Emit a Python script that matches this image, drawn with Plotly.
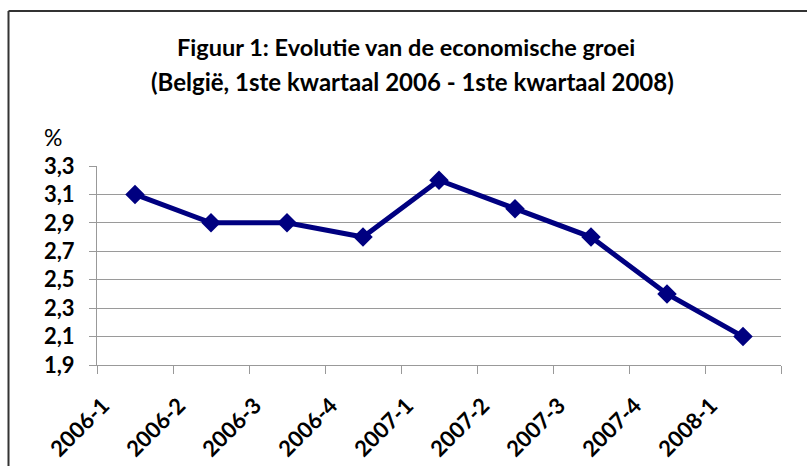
import plotly.graph_objects as go

quarters = ["2006-1", "2006-2", "2006-3", "2006-4", "2007-1", "2007-2", "2007-3", "2007-4", "2008-1"]
growth = [3.1, 2.9, 2.9, 2.8, 3.2, 3.0, 2.8, 2.4, 2.1]
y_ticks = [1.9, 2.1, 2.3, 2.5, 2.7, 2.9, 3.1, 3.3]

W, H = 807, 466
L, R, T, B = 97, 26, 166, 101
pw, ph = W - L - R, H - T - B

def px(x):
    return (x - L) / pw

def py(y):
    return (H - B - y) / ph

FONT = "Lato"
navy = "#000080"

fig = go.Figure()
fig.add_trace(go.Scatter(
    x=quarters, y=growth, mode="lines+markers",
    line=dict(color=navy, width=5),
    marker=dict(symbol="diamond", size=15, color=navy),
    showlegend=False, hoverinfo="x+y",
))

fig.update_layout(
    width=W, height=H,
    margin=dict(l=L, r=R, t=T, b=B, autoexpand=False),
    plot_bgcolor="white", paper_bgcolor="white",
    separators=",.",
    font=dict(family=FONT, color="black"),
    xaxis=dict(
        type="category", tickson="boundaries", ticks="outside", ticklen=8,
        tickcolor="#999999", tickwidth=1, showgrid=False,
        showline=True, linecolor="#999999", linewidth=1,
        tickangle=-45, tickfont=dict(size=22, family=FONT, weight="bold"),
        ticklabelstandoff=18, ticklabelshift=-32,
        range=[-0.5, len(quarters) - 0.5], automargin=False,
    ),
    yaxis=dict(
        range=[1.9, 3.3], tickvals=y_ticks, tickformat=".1f",
        ticks="outside", ticklen=7, tickcolor="#999999",
        showgrid=True, gridcolor="#9a9a9a", gridwidth=1,
        showline=True, linecolor="#999999", linewidth=1,
        zeroline=False, ticklabelstandoff=10,
        tickfont=dict(size=22, family=FONT, weight="bold"),
        automargin=False,
    ),
    annotations=[
        dict(text="<b>Figuur 1: Evolutie van de economische groei</b>",
             xref="paper", yref="paper", x=px(406), y=py(47),
             showarrow=False, font=dict(size=23.5, family=FONT), xanchor="center", yanchor="middle"),
        dict(text="<b>(België, 1ste kwartaal 2006 - 1ste kwartaal 2008)</b>",
             xref="paper", yref="paper", x=px(412), y=py(81),
             showarrow=False, font=dict(size=24, family=FONT), xanchor="center", yanchor="middle"),
        dict(text="%", xref="paper", yref="paper", x=px(53), y=py(137),
             showarrow=False, font=dict(size=23, family=FONT), xanchor="center", yanchor="middle"),
    ],
    shapes=[
        dict(type="line", xref="paper", yref="paper", x0=px(8.5), x1=px(807), y0=py(11), y1=py(11),
             line=dict(color="#333333", width=2)),
        dict(type="line", xref="paper", yref="paper", x0=px(8.5), x1=px(8.5), y0=py(11), y1=py(466),
             line=dict(color="#333333", width=2)),
    ],
)

fig.write_html("out.html", config={"displayModeBar": False},
               post_script="document.body.style.margin='0';document.body.style.overflow='hidden';")
